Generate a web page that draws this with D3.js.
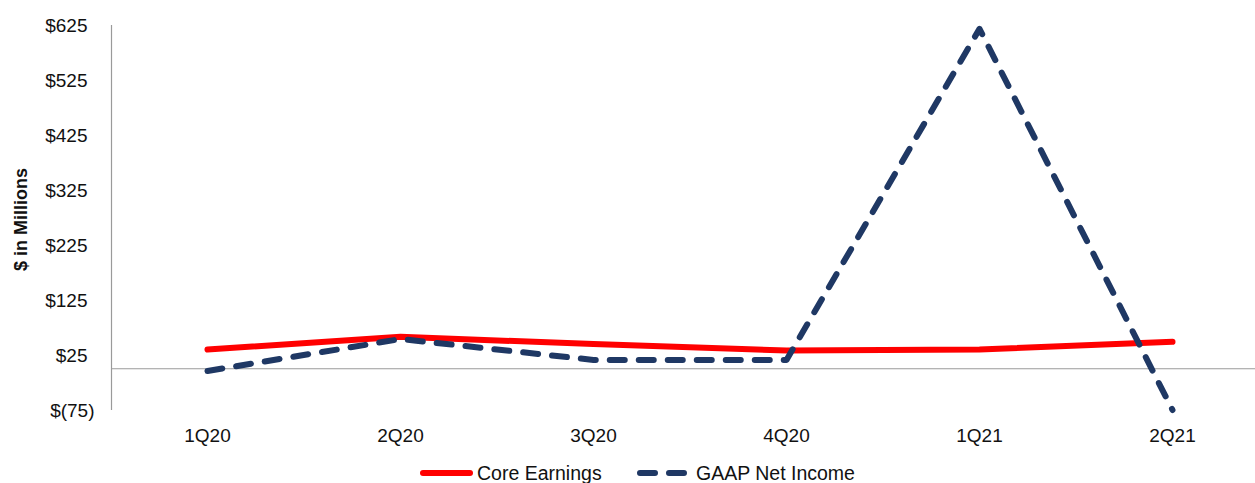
<!DOCTYPE html>
<html>
<head>
<meta charset="utf-8">
<script src="https://cdn.jsdelivr.net/npm/d3@7"></script>
<style>
  html, body { margin: 0; padding: 0; background: #fff; }
  svg { display: block; font-family: "Liberation Sans", Arial, sans-serif; }
</style>
</head>
<body>
<svg id="chart" width="1255" height="483"></svg>
<script>
const categories = ["1Q20", "2Q20", "3Q20", "4Q20", "1Q21", "2Q21"];
const coreEarnings = [35, 58, 45, 33, 35, 49];
const gaapNetIncome = [-4, 54, 16, 16, 618, -75];
const yTicks = [-75, 25, 125, 225, 325, 425, 525, 625];
const seriesNames = ["Core Earnings", "GAAP Net Income"];
const seriesColors = ["#FF0000", "#1F3864"];

const svg = d3.select("#chart");
const W = 1255;
const axisX = 111.5;

const x = d3.scalePoint().domain(categories).range([axisX + 96, axisX + 96 + 193 * 5]);
const y = d3.scaleLinear().domain([-75, 625]).range([410, 25]);

// y axis line
svg.append("line")
  .attr("x1", axisX).attr("x2", axisX)
  .attr("y1", y(625)).attr("y2", y(-75))
  .attr("stroke", "#9a9a9a").attr("stroke-width", 1.2);

// zero line
svg.append("line")
  .attr("x1", axisX).attr("x2", W)
  .attr("y1", y(0)).attr("y2", y(0))
  .attr("stroke", "#9a9a9a").attr("stroke-width", 1.2);

// y tick labels
const fmt = v => v < 0 ? "$(" + Math.abs(v) + ")" : "$" + v;
svg.append("g").selectAll("text").data(yTicks).join("text")
  .attr("x", axisX - 24)
  .attr("dx", d => d < 0 ? 7 : 0)
  .attr("y", d => y(d))
  .attr("dy", "0.36em")
  .attr("text-anchor", "end")
  .attr("font-size", 19)
  .attr("fill", "#111")
  .text(fmt);

// y axis title
svg.append("text")
  .attr("transform", `translate(27,${(y(625) + y(-75)) / 2 + 2}) rotate(-90)`)
  .attr("text-anchor", "middle")
  .attr("font-size", 18)
  .attr("font-weight", "bold")
  .attr("fill", "#111")
  .text("$ in Millions");

// x labels
svg.append("g").selectAll("text").data(categories).join("text")
  .attr("x", d => x(d))
  .attr("y", 442)
  .attr("text-anchor", "middle")
  .attr("font-size", 19)
  .attr("fill", "#111")
  .text(d => d);

const line = d3.line().x((d, i) => x(categories[i])).y(d => y(d));

svg.append("path")
  .datum(coreEarnings)
  .attr("d", line)
  .attr("fill", "none")
  .attr("stroke", seriesColors[0])
  .attr("stroke-width", 6)
  .attr("stroke-linecap", "round")
  .attr("stroke-linejoin", "round");

svg.append("path")
  .datum(gaapNetIncome)
  .attr("d", line)
  .attr("fill", "none")
  .attr("stroke", seriesColors[1])
  .attr("stroke-width", 6)
  .attr("stroke-linecap", "round")
  .attr("stroke-linejoin", "round")
  .attr("stroke-dasharray", "15,14");

// legend
const ly = 473;
const leg = svg.append("g");
leg.append("line")
  .attr("x1", 423).attr("x2", 470).attr("y1", ly).attr("y2", ly)
  .attr("stroke", seriesColors[0]).attr("stroke-width", 6).attr("stroke-linecap", "round");
leg.append("text")
  .attr("x", 477).attr("y", ly).attr("dy", "0.36em")
  .attr("font-size", 19.5).attr("fill", "#111")
  .text(seriesNames[0]);
leg.append("line")
  .attr("x1", 640).attr("x2", 685).attr("y1", ly).attr("y2", ly)
  .attr("stroke", seriesColors[1]).attr("stroke-width", 6).attr("stroke-linecap", "round")
  .attr("stroke-dasharray", "15,14");
leg.append("text")
  .attr("x", 696).attr("y", ly).attr("dy", "0.36em")
  .attr("font-size", 19.5).attr("fill", "#111")
  .text(seriesNames[1]);
</script>
</body>
</html>
